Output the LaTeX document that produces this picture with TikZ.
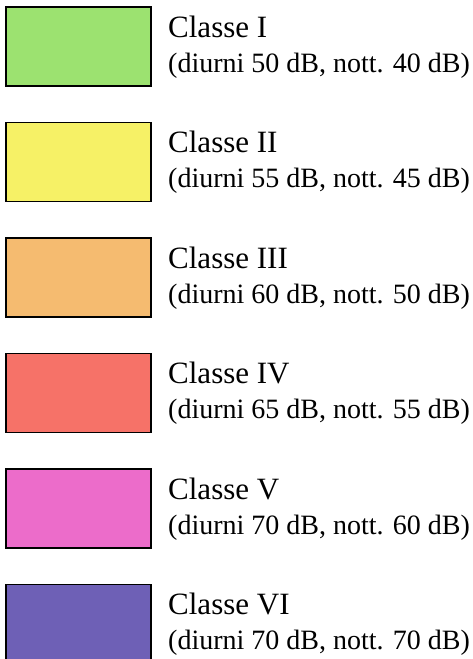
\documentclass[tikz,border=0pt]{standalone}
\usepackage{fontspec}
\setmainfont{Liberation Serif}

\definecolor{classeI}{RGB}{156,226,112}
\definecolor{classeII}{RGB}{246,241,102}
\definecolor{classeIII}{RGB}{245,187,112}
\definecolor{classeIV}{RGB}{246,114,104}
\definecolor{classeV}{RGB}{236,108,202}
\definecolor{classeVI}{RGB}{110,96,182}

\tikzset{
  swatch/.style={draw=black, line width=1.6pt, inner sep=0pt,
    minimum width=145pt, minimum height=79pt},
  title/.style={anchor=base west, inner sep=0pt, font=\fontsize{31}{31}\selectfont},
  levels/.style={anchor=base west, inner sep=0pt, font=\fontsize{28}{28}\selectfont}
}

\begin{document}
\begin{tikzpicture}[x=1pt,y=-1pt]
\useasboundingbox (0,0) rectangle (472,659);

\foreach \i/\cls/\day/\night in {0/I/50/40, 1/II/55/45, 2/III/60/50,
                                 3/IV/65/55, 4/V/70/60, 5/VI/70/70}{
  \pgfmathsetmacro{\top}{7+115.5*\i}
  \node[swatch, fill=classe\cls] (box\i) at (78.5,\top+39.5) {};
  \node[title] (title\i) at (168,\top+30) {Classe \cls};
  \node[levels] (levels\i) at (168,\top+65) {(diurni \day\ dB, nott. \night\ dB)};
}
\end{tikzpicture}
\end{document}
